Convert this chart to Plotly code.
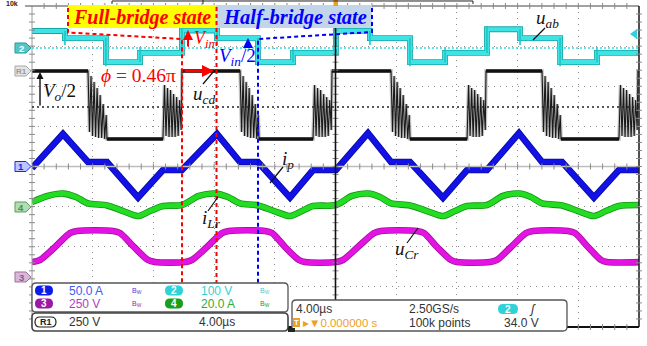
import plotly.graph_objects as go

# ---------------- canvas / screen geometry ----------------
W, H = 647, 346
ML, MR, MT, MB = 32, 8, 6, 19
PW, PH = W - ML - MR, H - MT - MB

T_DIV = 4.0                      # µs per division
X_DIVS, Y_DIVS = 10, 8
T0, T1 = -X_DIVS / 2 * T_DIV, X_DIVS / 2 * T_DIV

# channel vertical scale (unit/div) and ground position (div above centre)
SCALE = {"1": 50.0, "2": 100.0, "3": 250.0, "4": 20.0, "R1": 250.0}
GND = {"1": 0.0, "2": 2.95, "3": -2.75, "4": -1.0, "R1": 1.48}

# ---------------- ch1: primary current i_p (A) ----------------
ip_t = [-20.0, -17.96, -16.31, -15.06, -13.01, -11.37, -10.12, -7.81, -6.29, -5.11,
        -3.0, -1.48, 0.03, 2.14, 3.66, 4.91, 7.08, 8.67, 9.98, 12.09, 13.61, 14.93,
        17.03, 18.68, 20.0]
ip_a = [-2.0, 40.5, 5.6, 5.6, -38.6, -4.4, -4.4, 40.5, 5.6, 5.6,
        -38.6, -4.4, -4.4, 41.5, 5.6, 5.6, -39.0, -4.4, -4.4, 41.5, 5.6, 5.6,
        -38.6, -4.4, -4.4]

# ---------------- ch4: resonant current i_Lr (A) ----------------
ilr_t = [-20.0, -18.98, -17.96, -17.1, -16.31, -15.06, -14.0, -13.01, -12.22, -11.37,
         -10.12, -9.0, -7.94, -7.08, -6.29, -5.11, -4.05, -3.0, -2.21, -1.48,
         0.03, 1.09, 2.14, 2.93, 3.66, 4.91, 6.03, 7.08, 7.87, 8.67,
         9.98, 11.04, 12.09, 12.88, 13.61, 14.93, 15.98, 17.03, 17.82, 18.68, 20.0]
ilr_a = [2.3, 5.3, 6.5, 4.8, 1.6, 0.6, -2.2, -4.7, -2.2, 0.3,
         0.8, 5.3, 6.5, 4.8, 1.6, 0.6, -2.2, -4.7, -2.2, 0.3,
         0.8, 5.3, 6.5, 4.8, 1.6, 0.6, -2.2, -4.7, -2.2, 0.3,
         0.8, 5.3, 6.5, 4.8, 1.6, 0.6, -2.2, -4.7, -2.2, 0.3, 0.8]

# ---------------- ch3: resonant capacitor voltage u_Cr (V) ----------------
ucr_t = [-20.0, -19.47, -18.48, -17.5, -17.03, -14.66, -14.2, -13.28, -12.36, -11.89,
         -9.92, -9.46, -8.47, -7.48, -7.02, -4.65, -4.18, -3.33, -2.41, -2.01,
         0.03, 0.49, 1.48, 2.54, 3.0, 5.37, 5.83, 6.69, 7.61, 8.01,
         10.18, 10.64, 11.57, 12.55, 13.02, 15.32, 15.78, 16.64, 17.5, 17.89, 20.0]
ucr_v = [92, 105, 186, 273, 286, 286, 273, 186, 105, 92,
         92, 105, 186, 273, 286, 286, 273, 186, 105, 92,
         92, 105, 186, 273, 286, 286, 273, 186, 105, 92,
         92, 105, 186, 273, 286, 286, 273, 186, 105, 92, 92]

# ---------------- ch2: bridge voltage u_ab (V) ----------------
uab_start = 42.7
uab_step_t = [-17.83, -15.13, -12.88, -10.12, -7.81, -5.11, -2.8, 0.03,
              2.27, 4.91, 7.22, 9.98, 12.16, 14.8, 17.23]
uab_level = [25, -35, -12, 44, 25, -35, -12, 43, 25, -35, -12, 47, 25, -35, -12]
uab_spike = [8, -45, 3, 53, 8, -45, 3, 53, 8, -45, 3, 55, 8, -45, 3]

# ---------------- R1: rectifier voltage u_cd (V) ----------------
ucd_hi, ucd_lo = 225, -199
ucd_fall_t = [-16.31, -6.29, 3.66, 13.61]
ucd_rise_t = [-11.37, -1.48, 8.67, 18.68]
ring_dt = [0.0, 0.1, 0.2, 0.3, 0.4, 0.5, 0.6, 0.7, 0.8, 0.9, 1.0, 1.1, 1.2, 1.25]
ring_fall_v = [225, -155, 194, -180, 157, -186, 119, -192, 75, -192, 19, -199, -49, -199]
ring_rise_v = [-199, 138, -180, 119, -186, 107, -186, 82, -186, 63, -180, 44, -143, 225]


# ---------------- helpers ----------------
def fx(p):
    return (p - ML) / PW


def fy(p):
    return (H - MB - p) / PH


def path(points, close=False):
    s = "M " + " L ".join(f"{fx(x):.5f},{fy(y):.5f}" for x, y in points)
    return s + (" Z" if close else "")


def rrect(x0, y0, x1, y1, r):
    P = lambda x, y: f"{fx(x):.5f},{fy(y):.5f}"
    return (f"M {P(x0 + r, y0)} L {P(x1 - r, y0)} Q {P(x1, y0)} {P(x1, y0 + r)} "
            f"L {P(x1, y1 - r)} Q {P(x1, y1)} {P(x1 - r, y1)} L {P(x0 + r, y1)} "
            f"Q {P(x0, y1)} {P(x0, y1 - r)} L {P(x0, y0 + r)} Q {P(x0, y0)} {P(x0 + r, y0)} Z")


def to_div(values, ch):
    """Channel units -> screen divisions, using the channel's V/div and ground marker."""
    return [None if v is None else GND[ch] + v / SCALE[ch] for v in values]


fig = go.Figure()


def line(t, v, ch, color, width, shape="linear"):
    ln = dict(color=color, width=width, shape=shape)
    if shape == "spline":
        ln["smoothing"] = 0.8
    fig.add_trace(go.Scatter(x=t, y=to_div(v, ch), mode="lines", line=ln,
                             hoverinfo="skip", showlegend=False))


def band(t, v, ch, core, edge, w=5.0, shape="linear"):
    line(t, v, ch, edge, w + 1.6, shape)
    line(t, v, ch, core, w, shape)


band(ucr_t, ucr_v, "3", "#e313e3", "#a0109a", shape="spline")
band(ilr_t, ilr_a, "4", "#22dd22", "#139413", shape="spline")
band(ip_t, ip_a, "1", "#1212e6", "#0808a0")

# u_cd with switching ringing
edges = sorted([(t, ring_fall_v) for t in ucd_fall_t] + [(t, ring_rise_v) for t in ucd_rise_t])
bx, by = [T0], [ucd_hi]
qx, qy = [T0], [ucd_hi]
for te, pattern in edges:
    qx += [te, None]
    qy += [pattern[0], None]
    for dt, v in zip(ring_dt, pattern):
        bx.append(te + dt)
        by.append(v)
    qx.append(te + ring_dt[-1])
    qy.append(pattern[-1])
bx.append(T1); by.append(by[-1])
qx.append(T1); qy.append(qy[-1])
line(bx, by, "R1", "rgba(120,120,120,0.45)", 3.5)
line(bx, by, "R1", "#1a1a1a", 1.1)
line(qx, qy, "R1", "#111111", 3.6)

# u_ab stepped waveform plus switching spikes
cx, cy = [T0], [uab_start]
sx, sy = [], []
for t, lvl, spk in zip(uab_step_t, uab_level, uab_spike):
    prev = cy[-1]
    cx += [t, t]
    cy += [prev, lvl]
    sx += [t, t, None]
    sy += [prev, spk, None]
cx.append(T1); cy.append(cy[-1])
band(cx, cy, "2", "#3fe3e3", "#16a8a8", w=4.2)
line(sx, sy, "2", "#22c4c4", 1.6)

# ---------------- axes ----------------
fig.update_layout(
    width=W, height=H, margin=dict(l=ML, r=MR, t=MT, b=MB),
    paper_bgcolor="white", plot_bgcolor="white",
    xaxis=dict(range=[T0, T1], dtick=T_DIV, tick0=T0, showticklabels=False, ticks="",
               showgrid=True, gridcolor="#8c8c8c", griddash="1px,5px", gridwidth=1,
               zeroline=False, showline=False, fixedrange=True),
    yaxis=dict(range=[-Y_DIVS / 2, Y_DIVS / 2], dtick=1, tick0=0, showticklabels=False, ticks="",
               showgrid=True, gridcolor="#8c8c8c", griddash="1px,5px", gridwidth=1,
               zeroline=False, showline=False, fixedrange=True),
)

shapes = []
# screen border
shapes.append(dict(type="line", xref="paper", yref="paper", x0=0, x1=0, y0=0, y1=1,
                   line=dict(color="#9a9a9a", width=1)))
shapes.append(dict(type="line", xref="paper", yref="paper", x0=fx(25), x1=1, y0=1, y1=1,
                   line=dict(color="#444", width=1)))
shapes.append(dict(type="line", xref="paper", yref="paper", x0=1, x1=1, y0=0, y1=1,
                   line=dict(color="#222", width=1.6)))
shapes.append(dict(type="line", xref="paper", yref="paper", x0=0, x1=1, y0=0, y1=0,
                   line=dict(color="#111", width=2)))
# centre graticule with minor ticks
shapes.append(dict(type="line", xref="paper", yref="paper", x0=0, x1=1, y0=0.5, y1=0.5,
                   line=dict(color="#bdbdbd", width=1.4)))
tick_segs = []
for i in range(1, X_DIVS * 5):
    x = ML + i * PW / (X_DIVS * 5)
    for yc, h in ((MT + PH / 2, 3), (MT, 3), (H - MB, 3)):
        tick_segs.append(f"M {fx(x):.5f},{fy(yc - h):.5f} L {fx(x):.5f},{fy(yc + h):.5f}")
for i in range(1, Y_DIVS * 5):
    y = MT + i * PH / (Y_DIVS * 5)
    for xc, w_ in ((ML + PW / 2, 3), (ML, 3), (ML + PW, 3)):
        tick_segs.append(f"M {fx(xc - w_):.5f},{fy(y):.5f} L {fx(xc + w_):.5f},{fy(y):.5f}")
shapes.append(dict(type="path", xref="paper", yref="paper", path=" ".join(tick_segs),
                   line=dict(color="#8a8a8a", width=1)))
# trigger-time line
shapes.append(dict(type="line", xref="paper", yref="paper", x0=0.5, x1=0.5, y0=fy(300), y1=1,
                   line=dict(color="#111", width=1.6), layer="above"))
# ch2 ground and R1 reference lines
shapes.append(dict(type="line", xref="paper", yref="paper", x0=0, x1=1, y0=fy(48), y1=fy(48),
                   line=dict(color="#26e0f0", width=1.3, dash="2px,2px")))
shapes.append(dict(type="line", xref="paper", yref="paper", x0=0, x1=1, y0=fy(107), y1=fy(107),
                   line=dict(color="#222", width=1.3, dash="2px,3px")))

# state banners
shapes.append(dict(type="rect", xref="paper", yref="paper", x0=fx(68), x1=fx(216.5),
                   y0=fy(28), y1=fy(5), fillcolor="#ffff00", line=dict(width=0), layer="above"))
shapes.append(dict(type="rect", xref="paper", yref="paper", x0=fx(216.5), x1=fx(372),
                   y0=fy(28), y1=fy(5), fillcolor="#c3d5e9", line=dict(width=0), layer="above"))
red_dash = dict(color="#ff0000", width=2, dash="4px,3px")
blue_dash = dict(color="#0000ff", width=2, dash="4px,3px")
shapes.append(dict(type="path", xref="paper", yref="paper",
                   path=path([(68, 8), (68, 32.5), (182, 39), (182, 287)]),
                   line=red_dash, layer="above"))
shapes.append(dict(type="path", xref="paper", yref="paper",
                   path=path([(216.5, 7), (216.5, 287)]), line=red_dash, layer="above"))
shapes.append(dict(type="path", xref="paper", yref="paper",
                   path=path([(372, 8), (372, 32), (258, 39), (258, 287)]),
                   line=blue_dash, layer="above"))

# label leader lines
for (x0, y0, x1, y1) in [(545, 28, 533, 40), (203, 84, 214, 71), (270, 183, 283, 167),
                         (208, 211, 218, 197), (407, 243, 418, 228)]:
    shapes.append(dict(type="line", xref="paper", yref="paper", x0=fx(x0), y0=fy(y0),
                       x1=fx(x1), y1=fy(y1), line=dict(color="#111", width=1.2), layer="above"))

# channel tags on the left edge
tags = [(48, "2", "#53c6c6", "#2a9a9a", "white"),
        (71, "R1", "#e4e4e4", "#a8a8a8", "#9a9a9a"),
        (166.5, "1", "#bcc6ff", "#1a2ae0", "#1a2ae0"),
        (207, "4", "#b2dcb2", "#5aa05a", "#4a904a"),
        (277, "3", "#d9b7d9", "#a070a0", "#8a5a8a")]
for yc, lab, fill, edge, tc in tags:
    shapes.append(dict(type="path", xref="paper", yref="paper",
                       path=path([(15, yc - 5), (26, yc - 5), (31, yc), (26, yc + 5), (15, yc + 5)], close=True),
                       fillcolor=fill, line=dict(color=edge, width=1)))
# trigger level arrow (right edge) and trigger position marker (top)
shapes.append(dict(type="path", xref="paper", yref="paper",
                   path=path([(630, 34), (637, 29), (637, 39)], close=True),
                   fillcolor="#2fd0e0", line=dict(width=0), layer="above"))
shapes.append(dict(type="rect", xref="paper", yref="paper", x0=fx(333.5), x1=fx(338),
                   y0=fy(6), y1=fy(0), fillcolor="#f0a020", line=dict(width=0)))
# record-length bar
shapes.append(dict(type="path", xref="paper", yref="paper",
                   path=path([(112, 4), (112, 1), (473, 1), (473, 4)]),
                   line=dict(color="#222", width=1)))
shapes.append(dict(type="line", xref="paper", yref="paper", x0=fx(203), x1=fx(203),
                   y0=fy(4), y1=fy(0), line=dict(color="#222", width=1)))

# ---------------- readout panels ----------------
shapes.append(dict(type="path", xref="paper", yref="paper", path=rrect(32, 283, 288, 312, 4),
                   fillcolor="white", line=dict(color="#555", width=1.3), layer="above"))
shapes.append(dict(type="path", xref="paper", yref="paper", path=rrect(32, 313, 288, 331, 4),
                   fillcolor="white", line=dict(color="#444", width=1.6), layer="above"))
shapes.append(dict(type="path", xref="paper", yref="paper", path=rrect(292, 300, 567, 331, 4),
                   fillcolor="white", line=dict(color="#555", width=1.3), layer="above"))
shapes.append(dict(type="rect", xref="paper", yref="paper", x0=fx(288), x1=fx(295),
                   y0=fy(332), y1=fy(328), fillcolor="#222", line=dict(width=0), layer="above"))

pills = [(35, 290.5, "#0a1ee8"), (165, 290.5, "#2ed3d8"), (35, 303.5, "#9a1aa6"),
         (165, 303.5, "#17a017")]
pill_lbl = ["1", "2", "3", "4"]
for (x0, yc, col) in pills:
    shapes.append(dict(type="path", xref="paper", yref="paper", path=rrect(x0, yc - 5, x0 + 18, yc + 5, 5),
                       fillcolor=col, line=dict(width=0), layer="above"))
shapes.append(dict(type="path", xref="paper", yref="paper", path=rrect(35, 317, 56, 327, 5),
                   fillcolor="white", line=dict(color="#222", width=1.2), layer="above"))
shapes.append(dict(type="path", xref="paper", yref="paper", path=rrect(498, 304, 518, 314, 5),
                   fillcolor="#2ed3d8", line=dict(width=0), layer="above"))
shapes.append(dict(type="rect", xref="paper", yref="paper", x0=fx(293), x1=fx(300),
                   y0=fy(327), y1=fy(318), fillcolor="#f0a020", line=dict(width=0), layer="above"))

fig.update_layout(shapes=shapes)

# ---------------- text ----------------
SERIF = "Liberation Serif"
SANS = "Liberation Sans"
ann = []


def txt(x, y, s, size, color, family=SERIF, xa="left", ya="middle"):
    ann.append(dict(x=fx(x), y=fy(y), xref="paper", yref="paper", text=s, showarrow=False,
                    xanchor=xa, yanchor=ya, font=dict(family=family, size=size, color=color)))


def arrow(xh, yh, xt, yt, color, width):
    ann.append(dict(x=fx(xh), y=fy(yh), xref="paper", yref="paper", text="", showarrow=True,
                    ax=xt - xh, ay=yt - yh, axref="pixel", ayref="pixel", arrowhead=2,
                    arrowsize=1.0, arrowwidth=width, arrowcolor=color, standoff=0))


txt(142, 17, "<b><i>Full-bridge state</i></b>", 20, "#ff0000", xa="center")
txt(295, 17, "<b><i>Half-bridge state</i></b>", 20.5, "#0000ff", xa="center")
txt(192, 39, "<i>V</i><sub><i>in</i></sub>", 18, "#ff0000")
txt(217, 57, "<i>V</i><sub><i>in</i></sub>/2", 19, "#0000ff")
txt(99, 75, "<i>ϕ</i> = 0.46π", 19.5, "#ff0000")
txt(191, 95, "<i>u</i><sub><i>cd</i></sub>", 19, "#111")
txt(41, 92, "<i>V</i><sub><i>o</i></sub>/2", 19, "#111")
txt(534, 19, "<i>u</i><sub><i>ab</i></sub>", 19, "#111")
txt(280, 160, "<i>i</i><sub><i>p</i></sub>", 19, "#111")
txt(200, 219, "<i>i</i><sub><i>Lr</i></sub>", 19, "#111")
txt(393, 250, "<i>u</i><sub><i>Cr</i></sub>", 19, "#111")
txt(4, 3, "<b>10k</b>", 7, "#222", family=SANS)

arrow(188, 30, 188, 48, "#ff0000", 2)
arrow(248, 38, 248, 48, "#0000ff", 2)
arrow(214, 71, 183, 71, "#ff0000", 2.4)
arrow(40, 72, 40, 107, "#111", 1.4)

for yc, lab, fill, edge, tc in tags:
    txt(21, yc, f"<b>{lab}</b>", 8 if lab == "R1" else 9.5, tc, family=SANS, xa="center")

# channel readouts
for (x0, yc, col), lab in zip(pills, pill_lbl):
    txt(x0 + 9, yc, f"<b>{lab}</b>", 10, "white", family=SANS, xa="center")
txt(67, 290.5, "50.0 A", 12, "#3d5cf0", family=SANS)
txt(199, 290.5, "100 V", 12, "#35cfd4", family=SANS)
txt(67, 303.5, "250 V", 12, "#b23cbf", family=SANS)
txt(199, 303.5, "20.0 A", 12, "#2fae2f", family=SANS)
for xb, yb, col in [(130, 290.5, "#4a3ad8"), (258, 290.5, "#35cfd4"),
                    (130, 303.5, "#9a2aa6"), (258, 303.5, "#1c9a1c")]:
    txt(xb, yb, "B<sub>W</sub>", 7, col, family=SANS)
txt(45.5, 322, "<b>R1</b>", 9, "#222", family=SANS, xa="center")
txt(67, 322, "250 V", 12, "#333", family=SANS)
txt(197, 322, "4.00µs", 12, "#333", family=SANS)
# timebase / trigger readout
txt(294, 309, "4.00µs", 12, "#333", family=SANS)
txt(407, 309, "2.50GS/s", 12, "#333", family=SANS)
txt(508, 309, "<b>2</b>", 10, "white", family=SANS, xa="center")
txt(527, 309, "<i>ʃ</i>", 12, "#333", family=SANS)
txt(296.5, 322.5, "<b>T</b>", 8, "white", family=SANS, xa="center")
txt(301, 322.5, "▸▼0.000000 s", 11.5, "#f0a020", family=SANS)
txt(407, 322.5, "100k points", 12, "#333", family=SANS)
txt(502, 322.5, "34.0 V", 12, "#333", family=SANS)

fig.update_layout(annotations=ann)

fig.write_html("out.html")
